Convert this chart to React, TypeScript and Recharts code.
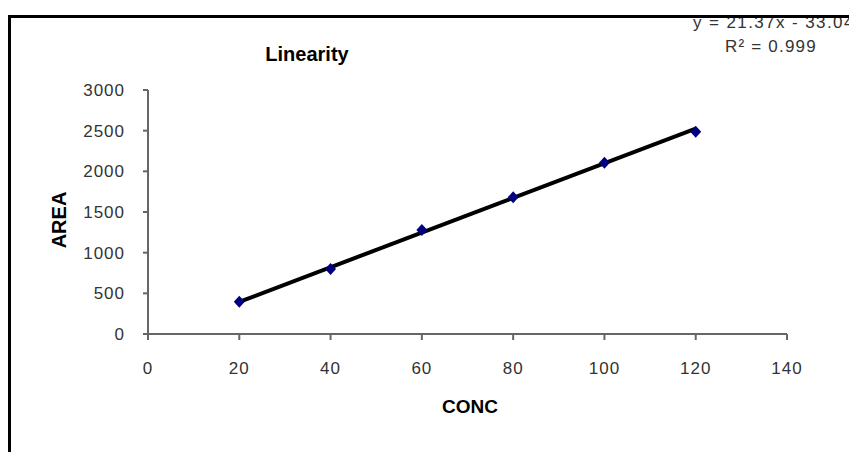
import React from "react";
import { ComposedChart, Scatter, Line, XAxis, YAxis } from "recharts";

// measured points (CONC vs AREA)
const conc = [20, 40, 60, 80, 100, 120];
const area = [397, 799, 1279, 1681, 2106, 2488];

// trendline ends as drawn in the picture
const trendConc = [20, 120];
const trendArea = [395, 2525];

const xTicks = [0, 20, 40, 60, 80, 100, 120, 140];
const yTicks = [0, 500, 1000, 1500, 2000, 2500, 3000];

const points = conc.map((x, i) => ({ x, y: area[i] }));
const trend = trendConc.map((x, i) => ({ x, y: trendArea[i] }));

const font = "'Liberation Sans', Arial, sans-serif";
const tickStyle = { fill: "#333", fontSize: 17, fontFamily: font, letterSpacing: 1 };

const Diamond = (props: any) => {
  const { cx, cy } = props;
  if (cx == null || cy == null) return null;
  return (
    <polygon
      points={`${cx},${cy - 6} ${cx + 5.5},${cy} ${cx},${cy + 6} ${cx - 5.5},${cy}`}
      fill="#000080"
    />
  );
};

export default function App() {
  return (
    <div style={{ position: "absolute", left: 0, top: 0, width: 849, height: 452, background: "#fff" }}>
      <ComposedChart
        width={849}
        height={452}
        margin={{ top: 90, right: 62, bottom: 48, left: 88 }}
      >
        <XAxis
          type="number"
          dataKey="x"
          domain={[0, 140]}
          ticks={xTicks}
          tick={tickStyle}
          tickSize={6}
          tickMargin={22}
          height={70}
          stroke="#666"
          strokeWidth={2}
          allowDataOverflow
        />
        <YAxis
          type="number"
          dataKey="y"
          domain={[0, 3000]}
          ticks={yTicks}
          tick={tickStyle}
          tickSize={5}
          tickMargin={18}
          width={60}
          stroke="#666"
          strokeWidth={2}
        />
        <Scatter data={points} dataKey="y" shape={Diamond} isAnimationActive={false} />
        <Line
          data={trend}
          dataKey="y"
          type="linear"
          stroke="#000"
          strokeWidth={4}
          dot={false}
          activeDot={false}
          isAnimationActive={false}
        />
        <text x={307} y={61} textAnchor="middle" fontFamily={font} fontWeight="bold" fontSize={20} fill="#000">
          Linearity
        </text>
        <text x={693} y={28} fontFamily={font} fontSize={17} letterSpacing={1.4} fill="#333">
          y = 21.37x - 33.04
        </text>
        <text x={771} y={52} textAnchor="middle" fontFamily={font} fontSize={17} letterSpacing={1.2} fill="#333">
          R² = 0.999
        </text>
        <text
          x={0}
          y={0}
          transform="translate(66,220) rotate(-90)"
          textAnchor="middle"
          fontFamily={font}
          fontWeight="bold"
          fontSize={20}
          fill="#000"
        >
          AREA
        </text>
        <text x={470} y={413} textAnchor="middle" fontFamily={font} fontWeight="bold" fontSize={19} fill="#000">
          CONC
        </text>
      </ComposedChart>
      {/* chart-area frame, only top and left edges are in view */}
      <div
        style={{
          position: "absolute",
          left: 8,
          top: 15,
          width: 841,
          height: 437,
          borderLeft: "3px solid #000",
          borderTop: "3px solid #000",
          boxSizing: "border-box",
          pointerEvents: "none",
        }}
      />
    </div>
  );
}
